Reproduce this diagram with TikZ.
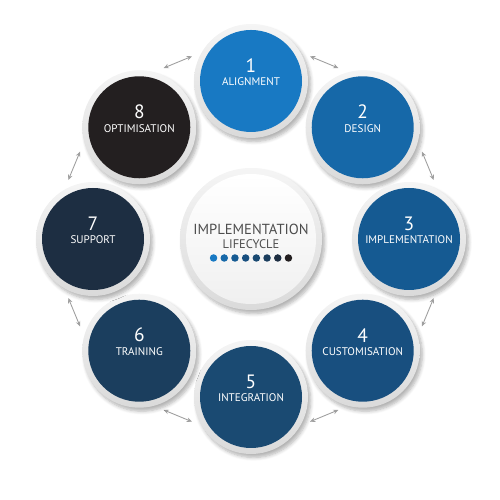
\documentclass[tikz,border=0pt]{standalone}
\usepackage{fontspec}
\setmainfont{PT Sans}
\usetikzlibrary{arrows.meta}
\usetikzlibrary{shadows.blur}
\definecolor{stageA}{RGB}{24,121,195}
\definecolor{stageB}{RGB}{22,104,168}
\definecolor{stageC}{RGB}{21,90,146}
\definecolor{stageD}{RGB}{24,79,127}
\definecolor{stageE}{RGB}{26,74,114}
\definecolor{stageF}{RGB}{27,62,94}
\definecolor{stageG}{RGB}{29,46,66}
\definecolor{stageH}{RGB}{35,31,32}
\definecolor{rimgray}{RGB}{218,218,218}
\definecolor{hubtext}{RGB}{77,77,77}

\tikzset{
  ring/.style={circle, minimum size=2.28cm, inner sep=0pt, top color=gray!8, bottom color=rimgray,
    blur shadow={shadow xshift=1.5pt, shadow yshift=-2pt, shadow blur steps=6, shadow opacity=30}},
  disc/.style={circle, minimum size=2.04cm, inner sep=0pt},
  numtext/.style={text=white, font=\fontsize{11}{11}\selectfont},
  nametext/.style={text=white, font=\fontsize{6.3}{6.5}\selectfont},
  link/.style={{Stealth[length=3pt,width=2.6pt]}-{Stealth[length=3pt,width=2.6pt]}, gray!75, line width=0.5pt},
}

\begin{document}
\begin{tikzpicture}
  \useasboundingbox (0,0) rectangle (10,10);
  \coordinate (hub) at (5.02,5.22);

  % centre
  \node[ring, minimum size=2.84cm] (hubrim) at (hub) {};
  \node[circle, minimum size=2.6cm, inner sep=0pt, top color=white, bottom color=gray!12] (hubdisc) at (hub) {};
  \node[text=hubtext, font=\fontsize{8.3}{9}\selectfont] (title) at ([yshift=0.2cm]hub) {IMPLEMENTATION};
  \node[text=hubtext, font=\fontsize{7.1}{8}\selectfont] (subtitle) at ([yshift=-0.1cm]hub) {LIFECYCLE};
  \foreach \k/\col in {1/stageA,2/stageB,3/stageC,4/stageD,5/stageE,6/stageF,7/stageG,8/stageH}
    \fill[\col] ([shift={(0.214*\k-0.963,-0.38)}]hub) circle (0.075);

  % stages
  \foreach \i/\col/\name [evaluate=\i as \ang using {90-45*(\i-1)}] in
      {1/stageA/ALIGNMENT, 2/stageB/DESIGN, 3/stageC/IMPLEMENTATION, 4/stageD/CUSTOMISATION,
       5/stageE/INTEGRATION, 6/stageF/TRAINING, 7/stageG/SUPPORT, 8/stageH/OPTIMISATION} {
    \node[ring] (rim\i) at ([shift={(\ang:3.16)}]hub) {};
    \node[disc, fill=\col] (stage\i) at (rim\i) {};
    \node[numtext] (num\i) at ([yshift=0.31cm]stage\i) {\i};
    \node[nametext] (name\i) at ([yshift=-0.02cm]stage\i) {\name};
    % arrow to next stage
    \coordinate (from\i) at ([shift={(\ang-22.5+4.6:3.84)}]hub);
    \coordinate (to\i) at ([shift={(\ang-22.5-4.6:3.84)}]hub);
    \draw[link] (from\i) -- (to\i);
  }
\end{tikzpicture}
\end{document}
